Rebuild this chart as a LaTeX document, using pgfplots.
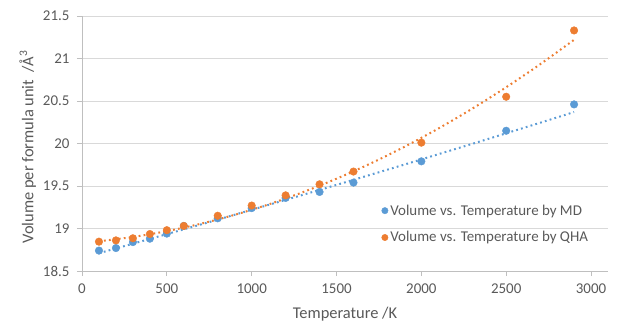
\documentclass[border=0pt]{standalone}
\usepackage{fontspec}
\setmainfont{Carlito}
\usepackage{pgfplots}
\pgfplotsset{compat=1.18}
\definecolor{mdblue}{HTML}{5B9BD5}
\definecolor{qhaorange}{HTML}{ED7D31}
\definecolor{txtgray}{HTML}{595959}
\definecolor{gridgray}{HTML}{D9D9D9}
\definecolor{axgray}{HTML}{BFBFBF}
\begin{document}
\begin{tikzpicture}
\useasboundingbox (-82bp,-65bp) rectangle (546bp,271bp);
\begin{axis}[
  scale only axis,
  width=526bp, height=255bp,
  xmin=0, xmax=3100, ymin=18.5, ymax=21.5,
  xtick={0,500,...,3000},
  ytick={18.5,19,...,21.5},
  yticklabels={18.5,19,19.5,20,20.5,21,21.5},
  /pgf/number format/assume math mode=true,
  scaled x ticks=false,
  xticklabel={\pgfmathprintnumber[fixed,precision=0,1000 sep={}]{\tick}},
  axis x line*=bottom,
  axis y line*=left,
  axis line style={axgray, line width=0.8bp},
  tick align=outside,
  major tick length=5bp,
  tick style={axgray, line width=0.8bp},
  ymajorgrids,
  grid style={gridgray, line width=0.8bp},
  ticklabel style={font=\fontsize{15}{18}\selectfont, text=txtgray},
  xticklabel style={yshift=-4bp},
  yticklabel style={xshift=-4bp},
  xlabel={Temperature /K},
  ylabel={Volume per formula unit\ \ /Å\textsuperscript{3}},
  label style={font=\fontsize{16.5}{19}\selectfont, text=txtgray},
  xlabel style={at={(axis description cs:0.5,-0.169)}, anchor=center},
  ylabel style={at={(axis description cs:-0.103,0.486)}, anchor=center},
  legend style={at={(axis description cs:0.569,0.184)}, anchor=west, draw=none, fill=none,
    font=\fontsize{15}{18}\selectfont, text=txtgray, row sep=11bp,
    legend cell align=left, inner sep=0pt},
  legend image code/.code={\fill (0.3cm,0) circle (3.2bp);},
  clip=false,
]
% Trendlines
\addplot[mdblue, line width=2bp, dash pattern=on 1.8bp off 3.2bp, forget plot, smooth] coordinates {
(100,18.710) (300,18.821) (500,18.934) (700,19.047) (900,19.162) (1100,19.278) (1300,19.395) (1500,19.513) (1700,19.632) (1900,19.752) (2100,19.874) (2300,19.996) (2500,20.120) (2700,20.244) (2900,20.370)};
\addplot[qhaorange, line width=2bp, dash pattern=on 1.8bp off 3.2bp, forget plot, smooth] coordinates {
(100,18.850) (300,18.900) (500,18.969) (700,19.056) (900,19.161) (1100,19.284) (1300,19.426) (1500,19.586) (1700,19.764) (1900,19.961) (2100,20.176) (2300,20.410) (2500,20.662) (2700,20.932) (2900,21.220)};
% Data
\addplot[only marks, mark=*, mark size=3.8bp, mdblue, mark options={draw=mdblue, fill=mdblue}] coordinates {
(100,18.74) (200,18.77) (300,18.84) (400,18.88) (500,18.94) (600,19.03) (800,19.12) (1000,19.24) (1200,19.36) (1400,19.43) (1600,19.54) (2000,19.79) (2500,20.15) (2900,20.46)};
\addlegendentry{Volume vs. Temperature by MD}
\addplot[only marks, mark=*, mark size=3.8bp, qhaorange, mark options={draw=qhaorange, fill=qhaorange}] coordinates {
(100,18.845) (200,18.86) (300,18.885) (400,18.935) (500,18.98) (600,19.03) (800,19.15) (1000,19.27) (1200,19.39) (1400,19.52) (1600,19.67) (2000,20.01) (2500,20.55) (2900,21.33)};
\addlegendentry{Volume vs. Temperature by QHA}
\end{axis}
\end{tikzpicture}
\end{document}
